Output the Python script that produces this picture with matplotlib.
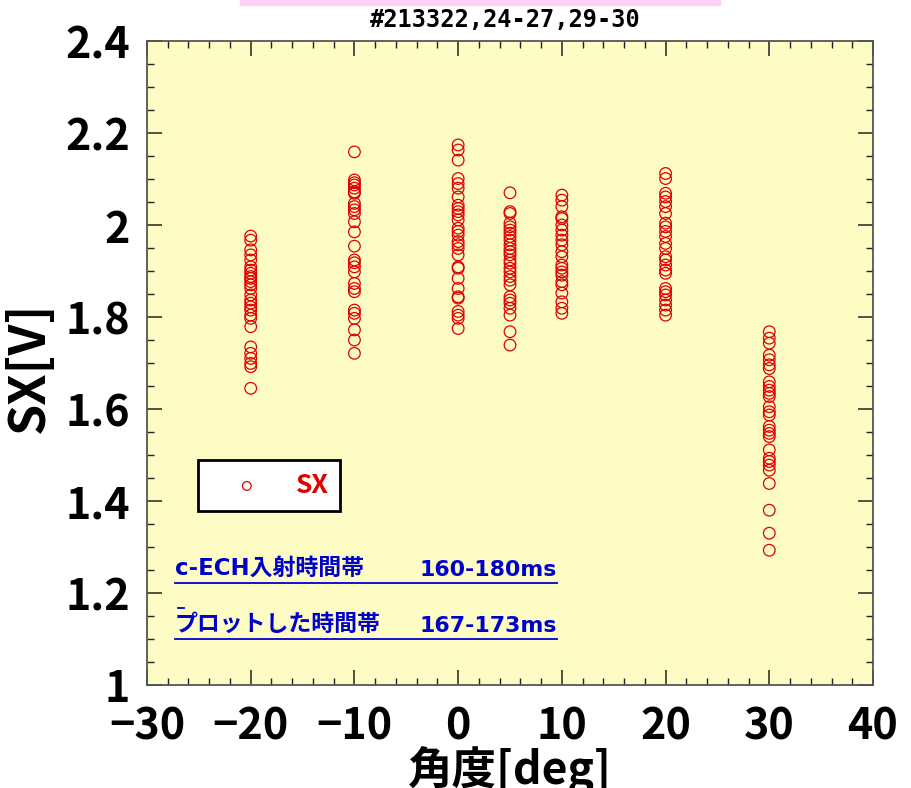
import numpy as np
import matplotlib
matplotlib.use("Agg")
import matplotlib.pyplot as plt
from matplotlib.patches import Rectangle

plt.rcParams['font.family'] = ['Noto Sans CJK JP', 'DejaVu Sans']

# SX signal at each injection angle (deg)
angles = [-20, -10, 0, 5, 10, 20, 30]
sx_m20 = [1.976, 1.967, 1.946, 1.935, 1.924, 1.909, 1.902, 1.895, 1.888, 1.884,
          1.877, 1.870, 1.862, 1.848, 1.837, 1.830, 1.822, 1.815, 1.804, 1.797,
          1.779, 1.735, 1.721, 1.710, 1.699, 1.692, 1.645]
sx_m10 = [2.159, 2.098, 2.092, 2.087, 2.080, 2.072, 2.069, 2.047, 2.040, 2.033,
          2.025, 2.007, 1.985, 1.954, 1.924, 1.918, 1.909, 1.898, 1.873, 1.862,
          1.855, 1.815, 1.808, 1.797, 1.772, 1.750, 1.721]
sx_0 = [2.174, 2.163, 2.141, 2.101, 2.090, 2.080, 2.061, 2.043, 2.036, 2.029,
        2.022, 2.011, 1.993, 1.986, 1.978, 1.964, 1.957, 1.949, 1.935, 1.909,
        1.906, 1.884, 1.862, 1.844, 1.841, 1.812, 1.804, 1.797, 1.775]
sx_5 = [2.070, 2.029, 2.025, 2.004, 1.996, 1.989, 1.982, 1.975, 1.967, 1.957,
        1.949, 1.942, 1.935, 1.924, 1.917, 1.906, 1.898, 1.888, 1.880, 1.870,
        1.844, 1.837, 1.830, 1.819, 1.804, 1.768, 1.739]
sx_10 = [2.065, 2.054, 2.040, 2.018, 2.014, 2.000, 1.989, 1.978, 1.967, 1.957,
         1.942, 1.931, 1.913, 1.906, 1.898, 1.891, 1.877, 1.870, 1.852, 1.833,
         1.819, 1.808]
sx_20 = [2.112, 2.101, 2.069, 2.061, 2.051, 2.040, 2.025, 2.004, 1.996, 1.986,
         1.975, 1.960, 1.949, 1.931, 1.924, 1.913, 1.902, 1.895, 1.862, 1.855,
         1.848, 1.837, 1.826, 1.815, 1.804]
sx_30 = [1.768, 1.754, 1.743, 1.717, 1.707, 1.696, 1.688, 1.659, 1.649, 1.641,
         1.634, 1.627, 1.605, 1.594, 1.587, 1.562, 1.554, 1.547, 1.540, 1.511,
         1.493, 1.486, 1.478, 1.467, 1.438, 1.380, 1.330, 1.293]
sx_groups = [sx_m20, sx_m10, sx_0, sx_5, sx_10, sx_20, sx_30]

title = "#213322,24-27,29-30"
note1 = ("c-ECH入射時間帯", "160-180ms")
note2 = ("プロットした時間帯", "167-173ms")

fig = plt.figure(figsize=(9.12, 7.88), dpi=100)
ax = fig.add_axes([147 / 912, 103 / 788, 726 / 912, 644 / 788])
ax.set_facecolor('#fcfcc4')

xs = np.concatenate([[a] * len(g) for a, g in zip(angles, sx_groups)])
ys = np.concatenate(sx_groups)
ax.scatter(xs, ys, s=70, facecolors='none', edgecolors='#e00000',
           linewidths=0.9, label='SX', zorder=3)

ax.set_xlim(-30, 40)
ax.set_ylim(1, 2.4)
ax.set_xticks(np.arange(-30, 41, 10))
ax.set_xticks(np.arange(-30, 41, 2), minor=True)
ax.set_yticks(np.arange(1.0, 2.41, 0.2))
ax.set_yticks(np.arange(1.0, 2.41, 0.05), minor=True)
ax.set_yticklabels(['1', '1.2', '1.4', '1.6', '1.8', '2', '2.2', '2.4'])
ax.tick_params(which='both', direction='in', top=True, right=True,
               color='#222222')
ax.tick_params(which='major', length=11, width=1.1, labelsize=31)
ax.tick_params(axis='y', which='major', pad=12)
ax.tick_params(axis='x', which='major', pad=14)
ax.tick_params(which='minor', length=5, width=1.0)
for lbl in ax.get_xticklabels() + ax.get_yticklabels():
    lbl.set_fontweight('bold')
for sp in ax.spines.values():
    sp.set_color('#555555')
    sp.set_linewidth(1.3)

ax.set_xlabel('角度[deg]', fontsize=32, fontweight='bold', labelpad=-2)
ax.set_ylabel('SX[V]', fontsize=36, fontweight='bold')
ax.yaxis.set_label_coords(-0.127, 0.493)

leg = ax.legend(loc='upper left', bbox_to_anchor=(51 / 726, 225 / 644),
                fancybox=False, framealpha=1, facecolor='white',
                edgecolor='black', borderpad=0.45, handletextpad=0.45,
                handlelength=2.8, borderaxespad=0, markerscale=0.75,
                prop={'size': 19, 'weight': 'bold'})
leg.get_frame().set_linewidth(2)
for t in leg.get_texts():
    t.set_color('#e00000')

blue = '#0000cc'
note_font = ['DejaVu Sans', 'Noto Sans CJK JP']
for (left, right), ypix in [(note1, 583), (note2, 639)]:
    yax = (685 - ypix) / 644
    ax.text(28 / 726, yax + 3 / 644, left, transform=ax.transAxes,
            fontsize=16.5, fontweight='bold', color=blue, va='bottom',
            family=note_font)
    ax.text(273 / 726, yax + 3 / 644, right, transform=ax.transAxes,
            fontsize=15.8, fontweight='bold', color=blue, va='bottom',
            family=note_font)
    ax.plot([28 / 726, 410 / 726], [yax, yax], transform=ax.transAxes,
            color=blue, lw=1.3)
ax.plot([31 / 726, 37 / 726], [77 / 644, 77 / 644], transform=ax.transAxes,
        color=blue, lw=1.3)

fig.patches.append(Rectangle((240 / 912, 783 / 788), 480 / 912, 5 / 788,
                             transform=fig.transFigure, color='#ffd0f8'))
fig.text(505 / 912, 768 / 788, title, ha='center', va='center',
         fontsize=17, fontweight='bold', family='DejaVu Sans Mono')

fig.savefig('out.png', dpi=100)
